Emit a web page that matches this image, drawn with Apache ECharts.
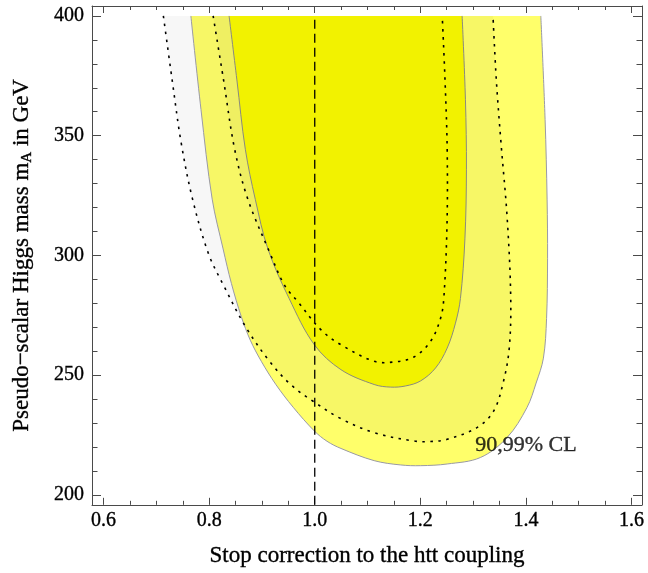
<!DOCTYPE html>
<html>
<head>
<meta charset="utf-8">
<script src="https://cdn.jsdelivr.net/npm/echarts@6/dist/echarts.min.js"></script>
<style>
  html, body { margin: 0; padding: 0; background: #fff; }
  #chart { width: 648px; height: 573px; }
</style>
</head>
<body>
<div id="chart"></div>
<script>
// Confidence-level contours in the (stop correction, m_A) plane.
// Each contour is a list of [coupling, mA] points, starting at the top-left
// edge (mA = 400), running down around the minimum and back up the right side.

// 99% CL region (solid, outer)
const cl99Solid = [
  [0.7653, 400], [0.7845, 360.9], [0.8057, 323.5], [0.8264, 302.7], [0.8421, 288.3],
  [0.8609, 274.4], [0.8779, 264.6], [0.8987, 255.8], [0.9260, 246.2], [0.9591, 236.6],
  [0.9992, 226.7], [1.0232, 222.4], [1.0496, 219.4], [1.1125, 214.3], [1.1628, 212.5],
  [1.2006, 212.2], [1.2509, 212.9], [1.3138, 215.6], [1.3642, 223.9], [1.4019, 236.4],
  [1.4194, 246.7], [1.4332, 257.1], [1.4392, 273.7], [1.4411, 298.6], [1.4402, 323.5],
  [1.4364, 356.8], [1.4283, 400]
];

// 90% CL region (solid, inner)
const cl90Solid = [
  [0.8377, 400], [0.8525, 373.3], [0.8685, 344.3], [0.8874, 323.4], [0.9113, 302.7],
  [0.9515, 282.0], [0.9992, 262.7], [1.0496, 252.3], [1.1125, 246.1], [1.1440, 245.0],
  [1.1723, 245.5], [1.2006, 247.6], [1.2289, 253.0], [1.2509, 261.3], [1.2666, 271.7],
  [1.2760, 282.0], [1.2845, 306.9], [1.2874, 336.0], [1.2855, 365.0], [1.2792, 400]
];

// 99% CL region of the second fit (dotted, outer)
const cl99Dotted = [
  [0.7132, 400], [0.7298, 373.3], [0.7468, 347.2], [0.7685, 323.5], [0.7987, 300.7],
  [0.8270, 287.6], [0.8685, 270.4], [0.9138, 255.9], [0.9553, 245.9], [0.9968, 239.1],
  [1.0496, 231.8], [1.1125, 226.0], [1.1879, 222.5], [1.2194, 222.3], [1.2509, 223.2],
  [1.3075, 228.1], [1.3389, 235.0], [1.3577, 247.5], [1.3685, 261.3], [1.3713, 282.0],
  [1.3647, 315.2], [1.3528, 347.2], [1.3440, 373.3], [1.3377, 400]
];

// 90% CL region of the second fit (dotted, inner)
const cl90Dotted = [
  [0.8075, 400], [0.8272, 373.3], [0.8483, 344.3], [0.8732, 323.5], [0.9143, 301.4],
  [0.9426, 287.6], [0.9679, 280.7], [1.0119, 268.9], [1.0496, 262.7], [1.1125, 255.8],
  [1.1502, 255.5], [1.1879, 257.6], [1.2194, 264.1], [1.2383, 273.7], [1.2445, 282.0],
  [1.2506, 313.2], [1.2509, 344.3], [1.2468, 373.3], [1.2415, 400]
];

// Standard-model reference value of the coupling
const smCoupling = [[1.0, 190], [1.0, 400]];

// Annotation
const clLabel = { text: '90,99% CL', at: [1.304, 220.6] };

// Axis ranges and tick labels
const xRange = [0.578, 1.62];
const yRange = [195.85, 404.15];
const xTickLabels = ['0.6', '0.8', '1.0', '1.2', '1.4', '1.6'];
const yTickLabels = ['200', '250', '300', '350', '400'];

const FONT = '"Liberation Serif", "Times New Roman", serif';
const SMOOTH = 0.35;
const FRAME = '#4a4a4a';

function fillSeries(points, color) {
  return {
    type: 'custom',
    coordinateSystem: 'cartesian2d',
    clip: true,
    silent: true,
    data: [points[0]],
    renderItem: function (params, api) {
      const px = points.map(p => api.coord(p));
      // repeat the end points so the closing edge along the top stays straight
      const shape = [px[0]].concat(px, [px[px.length - 1]]);
      return {
        type: 'polygon',
        shape: { points: shape, smooth: SMOOTH },
        style: { fill: color, stroke: null }
      };
    }
  };
}

function curveSeries(points, color, width, dash) {
  return {
    type: 'custom',
    coordinateSystem: 'cartesian2d',
    clip: true,
    silent: true,
    data: [points[0]],
    renderItem: function (params, api) {
      const px = points.map(p => api.coord(p));
      return {
        type: 'polyline',
        shape: { points: px, smooth: SMOOTH },
        style: { fill: null, stroke: color, lineWidth: width, lineDash: dash || null }
      };
    }
  };
}

function labelFor(list, decimals) {
  return function (v) {
    const s = v.toFixed(decimals);
    return list.indexOf(s) >= 0 ? s : '';
  };
}

const axisCommon = {
  type: 'value',
  splitLine: { show: false },
  axisLine: { show: true, onZero: false, lineStyle: { color: FRAME, width: 1 } },
  axisPointer: { show: false }
};

const textInk = { color: '#000', textBorderColor: '#000', textBorderWidth: 0.35 };

const chart = echarts.init(document.getElementById('chart'), null, { renderer: 'canvas' });

chart.setOption({
  animation: false,
  backgroundColor: '#ffffff',
  grid: { left: 90, top: 6, width: 552, height: 502, containLabel: false },
  xAxis: [
    Object.assign({}, axisCommon, {
      position: 'bottom',
      min: xRange[0], max: xRange[1],
      axisTick: { inside: true, length: 7, lineStyle: { color: FRAME } },
      minorTick: { show: true, splitNumber: 4, length: 4, lineStyle: { color: FRAME } },
      axisLabel: Object.assign({ margin: 6, fontFamily: FONT, fontSize: 20,
                   formatter: labelFor(xTickLabels, 1) }, textInk),
      name: 'Stop correction to the htt coupling',
      nameLocation: 'middle',
      nameGap: 40,
      nameTextStyle: Object.assign({ fontFamily: FONT, fontSize: 23 }, textInk)
    }),
    Object.assign({}, axisCommon, {
      position: 'top',
      min: xRange[0], max: xRange[1],
      axisTick: { inside: true, length: 7, lineStyle: { color: FRAME } },
      minorTick: { show: true, splitNumber: 4, length: 4, lineStyle: { color: FRAME } },
      axisLabel: { show: false }
    })
  ],
  yAxis: [
    Object.assign({}, axisCommon, {
      position: 'left',
      min: yRange[0], max: yRange[1],
      axisTick: { inside: true, length: 9, lineStyle: { color: FRAME } },
      minorTick: { show: true, splitNumber: 5, length: 5.5, lineStyle: { color: FRAME } },
      axisLabel: Object.assign({ margin: 8, fontFamily: FONT, fontSize: 20,
                   formatter: labelFor(yTickLabels, 0) }, textInk),
      name: 'Pseudo\u2212scalar Higgs mass m{sub|A} in GeV',
      nameLocation: 'middle',
      nameGap: 57,
      nameTextStyle: Object.assign({
        fontFamily: FONT, fontSize: 23, lineHeight: 27,
        rich: { sub: Object.assign({ fontFamily: FONT, fontSize: 15, lineHeight: 15, verticalAlign: 'bottom' }, textInk) }
      }, textInk)
    }),
    Object.assign({}, axisCommon, {
      position: 'right',
      min: yRange[0], max: yRange[1],
      axisTick: { inside: true, length: 9, lineStyle: { color: FRAME } },
      minorTick: { show: true, splitNumber: 5, length: 5.5, lineStyle: { color: FRAME } },
      axisLabel: { show: false }
    })
  ],
  series: [
    fillSeries(cl99Solid, '#ffff6a'),
    fillSeries(cl99Dotted, 'rgba(0,0,0,0.032)'),
    fillSeries(cl90Dotted, 'rgba(0,0,0,0.03)'),
    fillSeries(cl90Solid, '#f2f200'),
    curveSeries(cl99Solid, '#9a9aa6', 1),
    curveSeries(cl90Solid, '#8a8a80', 1),
    curveSeries(cl99Dotted, '#000', 1.6, [2.5, 5.5]),
    curveSeries(cl90Dotted, '#000', 1.6, [2.5, 5.5]),
    {
      type: 'line',
      data: smCoupling,
      showSymbol: false,
      silent: true,
      clip: true,
      lineStyle: { color: '#000', width: 1.3, type: [9, 5] }
    },
    {
      type: 'scatter',
      data: [clLabel.at],
      symbolSize: 0,
      silent: true,
      label: Object.assign({
        show: true,
        position: [0, 0],
        align: 'left',
        verticalAlign: 'middle',
        formatter: clLabel.text,
        fontFamily: FONT,
        fontSize: 22
      }, textInk)
    }
  ]
});
</script>
</body>
</html>
